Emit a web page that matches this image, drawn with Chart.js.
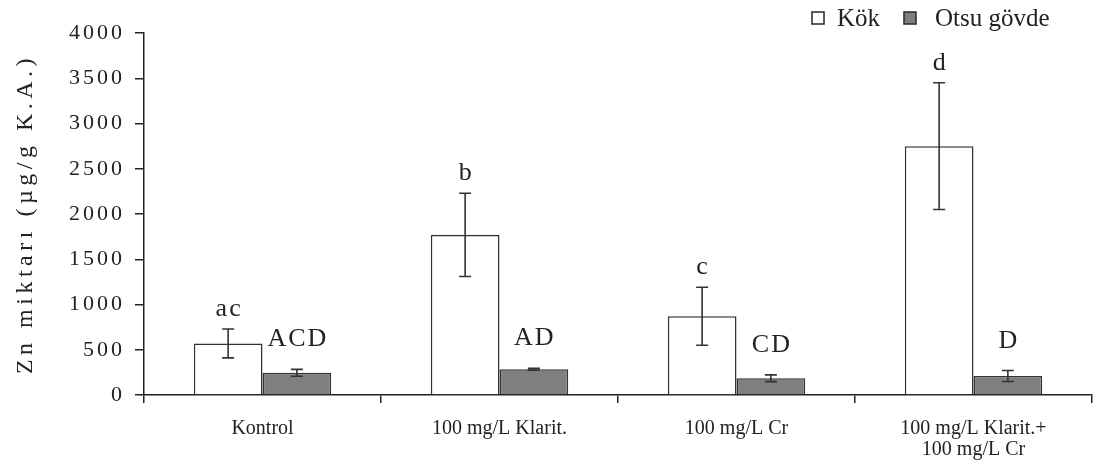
<!DOCTYPE html>
<html><head><meta charset="utf-8">
<script src="https://cdn.jsdelivr.net/npm/chart.js@4/dist/chart.umd.min.js"></script>
<style>html,body{margin:0;padding:0;background:#fff;overflow:hidden}#wrap{width:1097px;height:472px;position:relative}</style>
</head><body><div id="wrap"><canvas id="c"></canvas></div>
<script>
const categories = ['Kontrol', '100 mg/L Klarit.', '100 mg/L Cr', ['100 mg/L Klarit.+', '100 mg/L Cr']];
const seriesNames = ['Kök', 'Otsu gövde'];
const kokValues = [570, 1770, 870, 2750];
const kokErrors = [160, 460, 320, 700];
const govdeValues = [245, 285, 185, 210];
const govdeErrors = [38, 10, 37, 60];
const kokLetters = ['ac', 'b', 'c', 'd'];
const govdeLetters = ['ACD', 'AD', 'CD', 'D'];
const yMin = 0, yMax = 4000, yStep = 500;
const yTitle = 'Zn miktarı (µg/g K.A.)';

const SERIF = '"Liberation Serif", "Times New Roman", serif';
const INK = '#222';

class SpacedLinearScale extends Chart.LinearScale {
  draw(chartArea) {
    const ctx = this.ctx;
    ctx.save();
    ctx.letterSpacing = '3px';
    super.draw(chartArea);
    ctx.restore();
  }
  drawTitle() {
    const ctx = this.ctx;
    ctx.save();
    ctx.letterSpacing = '4.5px';
    super.drawTitle();
    ctx.restore();
  }
}
SpacedLinearScale.id = 'spacedLinear';
SpacedLinearScale.defaults = Chart.LinearScale.defaults;
Chart.register(SpacedLinearScale);

const errorSets = [kokErrors, govdeErrors];
const letterSets = [kokLetters, govdeLetters];

const annotPlugin = {
  id: 'annot',
  afterDatasetsDraw(chart) {
    const ctx = chart.ctx, y = chart.scales.y;
    chart.data.datasets.forEach((ds, di) => {
      const meta = chart.getDatasetMeta(di);
      meta.data.forEach((bar, i) => {
        const v = ds.data[i], e = errorSets[di][i];
        const yt = y.getPixelForValue(v + e), yb = y.getPixelForValue(v - e);
        const x = bar.x;
        ctx.save();
        ctx.strokeStyle = '#333';
        ctx.lineWidth = 1.6;
        ctx.beginPath();
        ctx.moveTo(x, yt); ctx.lineTo(x, yb);
        ctx.moveTo(x - 6, yt); ctx.lineTo(x + 6, yt);
        ctx.moveTo(x - 6, yb); ctx.lineTo(x + 6, yb);
        ctx.stroke();
        ctx.fillStyle = INK;
        ctx.font = '26px ' + SERIF;
        ctx.letterSpacing = '2px';
        ctx.textAlign = 'center';
        ctx.textBaseline = 'alphabetic';
        const gap = di === 0 ? 13 : 23;
        ctx.fillText(letterSets[di][i], x + 1, yt - gap);
        ctx.restore();
      });
    });
  },
  afterDraw(chart) {
    const ctx = chart.ctx;
    const items = [{x: 812, tx: 837}, {x: 904, tx: 935}];
    ctx.save();
    chart.data.datasets.forEach((ds, di) => {
      const it = items[di];
      ctx.fillStyle = ds.backgroundColor;
      ctx.fillRect(it.x, 12, 12, 12);
      ctx.strokeStyle = '#333';
      ctx.lineWidth = 1.6;
      ctx.strokeRect(it.x, 12, 12, 12);
      ctx.fillStyle = INK;
      ctx.font = '25px ' + SERIF;
      ctx.textAlign = 'left';
      ctx.textBaseline = 'alphabetic';
      ctx.fillText(ds.label, it.tx, 26);
    });
    ctx.restore();
  }
};

new Chart(document.getElementById('c'), {
  type: 'bar',
  data: {
    labels: categories,
    datasets: [
      {label: seriesNames[0], data: kokValues, backgroundColor: '#ffffff', borderColor: '#333', borderWidth: 1.6},
      {label: seriesNames[1], data: govdeValues, backgroundColor: '#7f7f7f', borderColor: '#333', borderWidth: 1.6}
    ]
  },
  options: {
    responsive: true,
    maintainAspectRatio: false,
    animation: false,
    layout: {padding: {top: 33, right: 5, left: 0, bottom: 0}},
    datasets: {bar: {categoryPercentage: 0.58, barPercentage: 1}},
    plugins: {legend: {display: false}, tooltip: {enabled: false}},
    scales: {
      x: {
        grid: {display: true, drawOnChartArea: false, drawTicks: true, tickLength: 8, color: INK, lineWidth: 1.5, offset: true},
        border: {color: INK, width: 1.5},
        ticks: {font: {family: SERIF, size: 20, lineHeight: 1.05}, color: INK, padding: 15, maxRotation: 0, autoSkip: false},
        afterFit(s) { s.height = 77; }
      },
      y: {
        type: 'spacedLinear',
        min: yMin, max: yMax,
        grid: {display: true, drawOnChartArea: false, drawTicks: true, tickLength: 9, color: INK, lineWidth: 1.5},
        border: {color: INK, width: 1.5},
        ticks: {stepSize: yStep, font: {family: SERIF, size: 22}, color: INK, padding: 10, callback: (v) => String(v)},
        title: {display: true, text: yTitle, font: {family: SERIF, size: 24}, color: INK, padding: {top: 11, bottom: 0}},
        afterFit(s) { s.width = 144; }
      }
    }
  },
  plugins: [annotPlugin]
});
</script>
</body></html>
